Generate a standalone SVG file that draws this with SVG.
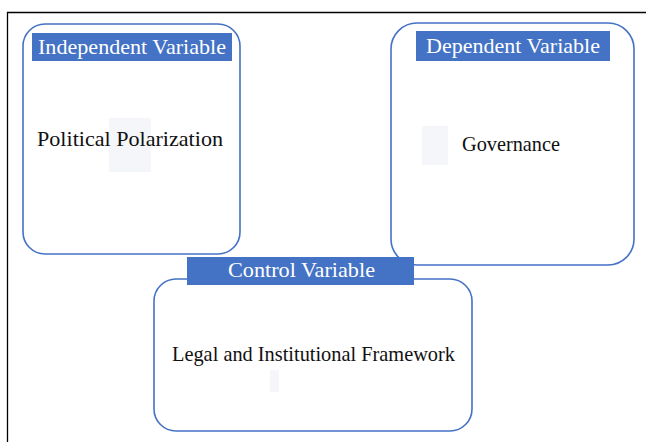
<svg xmlns="http://www.w3.org/2000/svg" width="646" height="442" viewBox="0 0 646 442">
<style>
.box{fill:#fff;stroke:#4472C4;stroke-width:1.6}
.lab{fill:#4472C4}
.t{font-family:'Liberation Serif','Times New Roman',serif;font-size:21px}
.lt{fill:#fff}
.bt{fill:#111}
.ph{fill:#f4f6f9}
</style>
<rect x="0" y="0" width="646" height="442" fill="#fff"/>
<path d="M7.5 442 V12.5 H646" fill="none" stroke="#000" stroke-width="1.3"/>
<g id="connectors"></g>
<g id="independent">
<rect class="box" x="23" y="24" width="217" height="230" rx="22"/>
<rect class="lab" x="32" y="33" width="200" height="28"/>
<text class="t lt" x="38" y="53.5" textLength="188" lengthAdjust="spacingAndGlyphs">Independent Variable</text>
<rect class="ph" x="109" y="118" width="42" height="54"/>
<text class="t bt" x="37" y="146" textLength="186" lengthAdjust="spacingAndGlyphs">Political Polarization</text>
</g>
<g id="dependent">
<rect class="box" x="391" y="23" width="243" height="242" rx="26"/>
<rect class="lab" x="416" y="31" width="194" height="30"/>
<text class="t lt" x="426" y="52.5" textLength="174" lengthAdjust="spacingAndGlyphs">Dependent Variable</text>
<rect class="ph" x="422" y="126" width="26" height="39"/>
<text class="t bt" x="462" y="150.5" textLength="98" lengthAdjust="spacingAndGlyphs">Governance</text>
</g>
<g id="control">
<rect class="box" x="154" y="279" width="318" height="152" rx="22"/>
<rect class="lab" x="187" y="257" width="227" height="28"/>
<text class="t lt" x="228" y="277" textLength="147" lengthAdjust="spacingAndGlyphs">Control Variable</text>
<rect class="ph" x="270" y="370" width="9" height="22"/>
<text class="t bt" x="172" y="361" textLength="283" lengthAdjust="spacingAndGlyphs">Legal and Institutional Framework</text>
</g>
</svg>
